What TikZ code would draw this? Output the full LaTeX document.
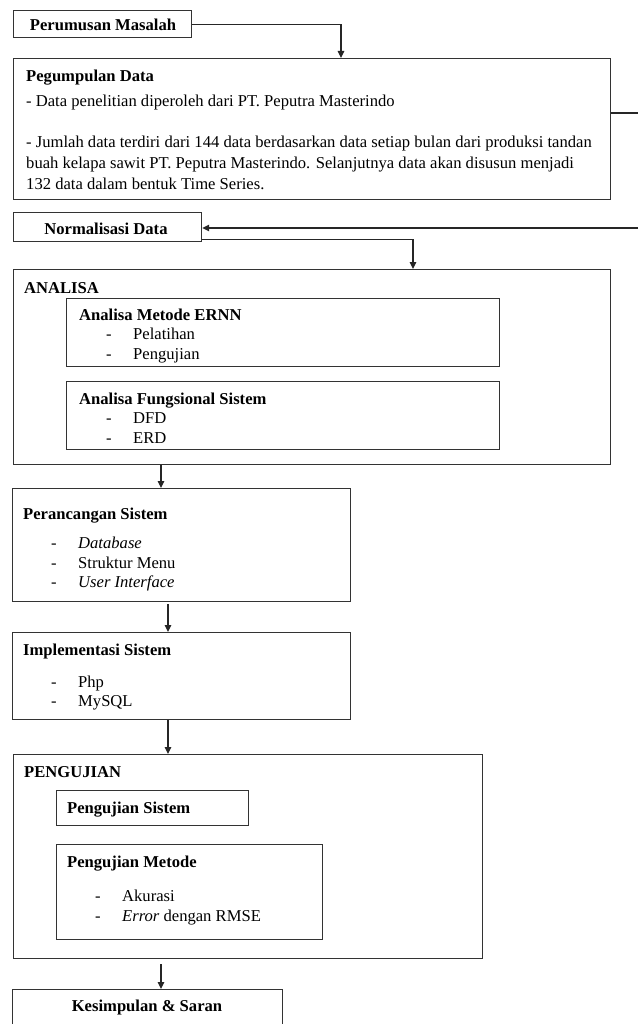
\documentclass[tikz,border=0pt]{standalone}
\usepackage{fontspec}
\setmainfont{Liberation Serif}
\usetikzlibrary{arrows.meta}
\begin{document}
\begin{tikzpicture}[x=1pt,y=-1pt,
  frame/.style={draw=black!80, line width=1.2pt, inner sep=0pt, anchor=north west},
  link/.style={draw=black!85, line width=1.1pt},
  arr/.style={link, -{Triangle[length=7pt,width=6.5pt]}},
  txt/.style={anchor=base west, inner sep=0pt, font=\fontsize{16.6}{19}\selectfont},
  head/.style={txt, font=\fontsize{16.6}{19}\selectfont\bfseries},
]
\useasboundingbox[fill=white] (0,0) rectangle (638,1024);

% ---- boxes ----
\node[frame, minimum width=178pt, minimum height=27pt] (pm) at (13,10) {};
\node[frame, minimum width=597pt, minimum height=141pt] (pg) at (13,58) {};
\node[frame, minimum width=188pt, minimum height=29pt] (nd) at (13,212) {};
\node[frame, minimum width=597pt, minimum height=195pt] (an) at (13,269) {};
\node[frame, minimum width=433pt, minimum height=68pt] (an1) at (66,298) {};
\node[frame, minimum width=433pt, minimum height=68pt] (an2) at (66,381) {};
\node[frame, minimum width=338pt, minimum height=113pt] (pr) at (12,488) {};
\node[frame, minimum width=338pt, minimum height=87pt] (im) at (12,632) {};
\node[frame, minimum width=469pt, minimum height=204pt] (pj) at (13,754) {};
\node[frame, minimum width=192pt, minimum height=35pt] (pj1) at (56,790) {};
\node[frame, minimum width=266pt, minimum height=95pt] (pj2) at (56,844) {};
\node[frame, minimum width=270pt, minimum height=60pt] (ks) at (12,989) {};

% ---- texts ----
\node[head, anchor=base] (pmt) at (103,31) {Perumusan Masalah};

\node[head] (pgt) at (26,82) {Pegumpulan Data};
\node[txt] (pg1) at (26,107) {- Data penelitian diperoleh dari PT. Peputra Masterindo};
\node[txt] (pg2) at (26,148) {- Jumlah data terdiri dari 144 data berdasarkan data setiap bulan dari produksi tandan};
\node[txt] (pg3) at (26,169) {buah kelapa sawit PT. Peputra Masterindo. Selanjutnya data akan disusun menjadi};
\node[txt] (pg4) at (26,190) {132 data dalam bentuk Time Series.};

\node[head, anchor=base] (ndt) at (106,235) {Normalisasi Data};

\node[head] (ant) at (24,293) {ANALISA};
\node[head] (an1t) at (79,320) {Analisa Metode ERNN};
\node[txt] (an1d1) at (106,339) {-};
\node[txt] (an1a) at (133,339) {Pelatihan};
\node[txt] (an1d2) at (106,359) {-};
\node[txt] (an1b) at (133,359) {Pengujian};
\node[head] (an2t) at (79,404) {Analisa Fungsional Sistem};
\node[txt] (an2d1) at (106,423) {-};
\node[txt] (an2a) at (133,423) {DFD};
\node[txt] (an2d2) at (106,443) {-};
\node[txt] (an2b) at (133,443) {ERD};

\node[head] (prt) at (23,519) {Perancangan Sistem};
\node[txt] (prd1) at (51,548) {-};
\node[txt] (pra) at (78,548) {\itshape Database};
\node[txt] (prd2) at (51,568) {-};
\node[txt] (prb) at (78,568) {Struktur Menu};
\node[txt] (prd3) at (51,587) {-};
\node[txt] (prc) at (78,587) {\itshape User Interface};

\node[head] (imt) at (23,655) {Implementasi Sistem};
\node[txt] (imd1) at (51,687) {-};
\node[txt] (ima) at (78,687) {Php};
\node[txt] (imd2) at (51,706) {-};
\node[txt] (imb) at (78,706) {MySQL};

\node[head] (pjt) at (24,777) {PENGUJIAN};
\node[head] (pj1t) at (67,813) {Pengujian Sistem};
\node[head] (pj2t) at (67,867) {Pengujian Metode};
\node[txt] (pjd1) at (95,901) {-};
\node[txt] (pja) at (122,901) {Akurasi};
\node[txt] (pjd2) at (95,921) {-};
\node[txt] (pjb) at (122,921) {\textit{Error} dengan RMSE};

\node[head, anchor=base] (kst) at (147,1011) {Kesimpulan \& Saran};

% ---- connectors ----
\draw[arr] (pm.east) -| ([xshift=328pt]pg.north west);
\coordinate (outA) at (638,113);
\draw[link] (pg.east |- outA) -- (outA);
\coordinate (inB) at (638,228);
\draw[arr] (inB) -- (inB -| nd.east);
\draw[arr] ([yshift=3pt]nd.south east) -| ([xshift=400pt]an.north west);
\draw[arr] ([xshift=148pt]an.south west) coordinate (c1) -- (c1 |- pr.north);
\draw[arr] ([xshift=156pt,yshift=-2pt]pr.south west) coordinate (c2) -- (c2 |- im.north);
\draw[arr] ([xshift=156pt]im.south west) coordinate (c3) -- (c3 |- pj.north);
\draw[arr] ([xshift=148pt,yshift=-5pt]pj.south west) coordinate (c4) -- (c4 |- ks.north);
\end{tikzpicture}
\end{document}
